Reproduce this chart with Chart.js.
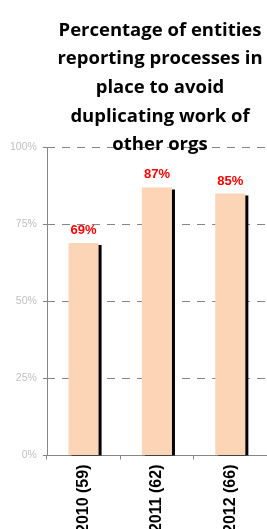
<!DOCTYPE html>
<html>
<head>
<meta charset="utf-8">
<script src="https://cdn.jsdelivr.net/npm/chart.js@4/dist/chart.umd.min.js"></script>
<style>
html,body{margin:0;padding:0;background:#fff;overflow:hidden;}
#wrap{position:relative;width:267px;height:538px;}
</style>
</head>
<body>
<div id="wrap"><canvas id="c"></canvas></div>
<script>
const categories = ["2010 (59)", "2011 (62)", "2012 (66)"];
const values = [69, 87, 85];
const valueLabels = ["69%", "87%", "85%"];
const yTicks = [0, 25, 50, 75, 100];
const titleLines = ["Percentage of entities", "reporting processes in", "place to avoid", "duplicating work of", "other orgs"];

const shadowPlugin = {
  id: 'barShadow',
  beforeDatasetDraw(chart) {
    const ctx = chart.ctx;
    ctx.shadowColor = '#000000';
    ctx.shadowBlur = 0;
    ctx.shadowOffsetX = 3;
    ctx.shadowOffsetY = 2;
  },
  afterDatasetDraw(chart) {
    const ctx = chart.ctx;
    ctx.shadowColor = 'rgba(0,0,0,0)';
    ctx.shadowOffsetX = 0;
    ctx.shadowOffsetY = 0;
  }
};

const labelPlugin = {
  id: 'valueLabels',
  afterDatasetsDraw(chart) {
    const ctx = chart.ctx;
    const meta = chart.getDatasetMeta(0);
    ctx.save();
    ctx.font = 'bold 13px "Liberation Sans", Arial, sans-serif';
    ctx.fillStyle = '#FF0000';
    ctx.textAlign = 'center';
    ctx.textBaseline = 'alphabetic';
    meta.data.forEach((bar, i) => {
      ctx.fillText(valueLabels[i], bar.x, bar.y - 9);
    });
    ctx.restore();
  }
};

const titleShift = {
  id: 'titleShift',
  afterLayout(chart) {
    if (chart.titleBlock) {
      chart.titleBlock.left = 53;
    }
  }
};

const solidYAxis = {
  id: 'solidYAxis',
  beforeDatasetsDraw(chart) {
    const ctx = chart.ctx;
    const y = chart.scales.y;
    const x = Math.round(y.right) + 0.5;
    ctx.save();
    ctx.strokeStyle = '#868686';
    ctx.lineWidth = 1;
    ctx.setLineDash([]);
    ctx.beginPath();
    ctx.moveTo(x, y.getPixelForValue(y.max));
    ctx.lineTo(x, y.getPixelForValue(y.min));
    ctx.stroke();
    ctx.restore();
  }
};

new Chart(document.getElementById('c'), {
  type: 'bar',
  data: {
    labels: categories,
    datasets: [{
      data: values,
      backgroundColor: '#FBD5B5',
      borderWidth: 0,
      categoryPercentage: 1.0,
      barPercentage: 0.41,
      clip: 0
    }]
  },
  options: {
    responsive: true,
    maintainAspectRatio: false,
    animation: false,
    layout: { padding: { left: 4, right: 0, top: 0, bottom: 0 } },
    plugins: {
      legend: { display: false },
      tooltip: { enabled: false },
      title: {
        display: true,
        text: titleLines,
        color: '#000000',
        font: { family: '"Open Sans", "Liberation Sans", sans-serif', size: 18.5, weight: 'bold', lineHeight: 1.55 },
        padding: { top: 16, bottom: -12 }
      }
    },
    scales: {
      x: {
        offset: true,
        grid: {
          offset: true,
          drawOnChartArea: false,
          drawTicks: true,
          tickLength: 4,
          color: '#868686'
        },
        border: { color: '#868686', width: 1 },
        ticks: {
          maxRotation: 90,
          minRotation: 90,
          padding: 5,
          color: '#000000',
          font: { family: '"Liberation Sans", Arial, sans-serif', size: 16, weight: 'bold' }
        }
      },
      y: {
        min: 0,
        max: 100,
        afterBuildTicks(scale) {
          scale.ticks = yTicks.map(v => ({ value: v }));
        },
        grid: {
          color: '#868686',
          tickLength: 4,
          tickColor: '#868686',
          drawTicks: true
        },
        border: { display: false, color: '#868686', width: 1, dash: [8, 7] },
        ticks: {
          padding: 6,
          color: '#BFBFBF',
          font: { family: '"Liberation Sans", Arial, sans-serif', size: 10.5 },
          callback: v => v + '%'
        }
      }
    }
  },
  plugins: [shadowPlugin, labelPlugin, titleShift, solidYAxis]
});
</script>
</body>
</html>
